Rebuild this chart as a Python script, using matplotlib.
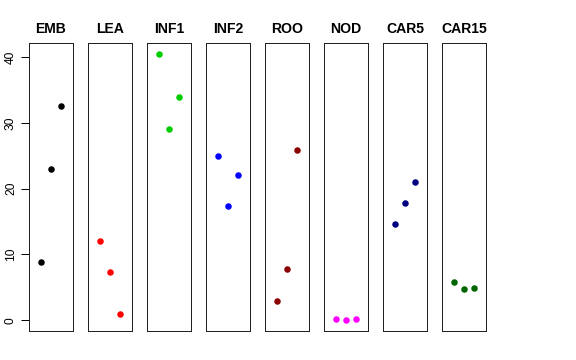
import matplotlib
matplotlib.use('Agg')
import matplotlib.pyplot as plt
import numpy as np

plt.rcParams['font.family'] = ['Liberation Sans', 'DejaVu Sans']

# one panel per tissue, three samples each
tissues = ['EMB', 'LEA', 'INF1', 'INF2', 'ROO', 'NOD', 'CAR5', 'CAR15']
emb = [8.9, 23.0, 32.5]
lea = [12.1, 7.4, 0.9]
inf1 = [40.5, 29.1, 33.9]
inf2 = [24.9, 17.4, 22.1]
roo = [3.0, 7.75, 25.9]
nod = [0.15, 0.0, 0.2]
car5 = [14.7, 17.8, 21.0]
car15 = [5.8, 4.7, 4.9]
values = [emb, lea, inf1, inf2, roo, nod, car5, car15]
colors = ['black', 'red', '#00CD00', 'blue', '#8B0000', 'magenta', '#000080', '#006400']
yticks = [0, 10, 20, 30, 40]

W, H = 576, 360
fig = plt.figure(figsize=(W / 72, H / 72), dpi=72)

ymin = min(min(v) for v in values)
ymax = max(max(v) for v in values)
pad = 0.04 * (ymax - ymin)

for i, (name, vals, col) in enumerate(zip(tissues, values, colors)):
    left = 29 + 59 * i
    ax = fig.add_axes([left / W, 29 / H, 44 / W, 288 / H])
    ax.plot([1, 2, 3], vals, 'o', color=col, ms=6.5, mec='none')
    ax.set_xlim(-0.14, 4.14)
    ax.set_ylim(ymin - pad, ymax + pad)
    ax.set_xticks([])
    for s in ax.spines.values():
        s.set_linewidth(1.0)
        s.set_color('#222222')
    if i == 0:
        ax.set_yticks(yticks)
        ax.tick_params(axis='y', length=8, width=1, pad=4, labelsize=12)
        for lbl in ax.get_yticklabels():
            lbl.set_rotation(90)
            lbl.set_va('center')
    else:
        ax.set_yticks([])
    fig.text((left + 22) / W, 1 - 29 / H, name, ha='center', va='center',
             fontsize=14, fontweight='bold')

fig.savefig('out.png', dpi=72)
